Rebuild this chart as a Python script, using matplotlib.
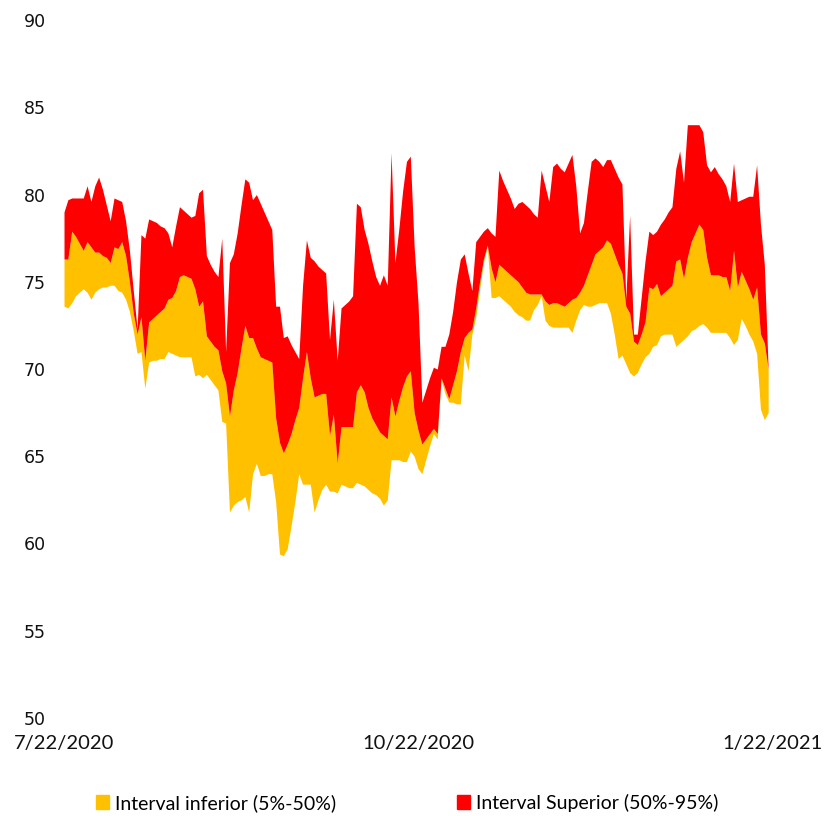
import matplotlib
matplotlib.use("Agg")
import matplotlib.pyplot as plt
import pandas as pd
from matplotlib.patches import Patch

# Daily percentiles, starting on 7/22/2020
start_date = "2020-07-22"
end_date = "2021-01-22"

p95 = [
    79.0, 79.7, 79.8, 79.8, 79.8, 79.8, 80.5, 79.6, 80.5, 81.0,
    80.3, 79.4, 78.5, 79.8, 79.7, 79.6, 78.5, 76.8, 74.5, 72.3,
    77.7, 77.5, 78.6, 78.5, 78.4, 78.2, 78.1, 77.8, 77.0, 78.2,
    79.3, 79.1, 78.9, 78.7, 78.8, 80.1, 80.3, 76.5, 76.0, 75.6,
    75.3, 77.5, 71.0, 76.1, 76.6, 77.8, 79.4, 80.9, 80.7, 79.7,
    80.0, 79.5, 79.0, 78.5, 78.0, 73.6, 73.6, 71.8, 71.9, 71.4,
    71.0, 70.6, 74.8, 77.4, 76.4, 76.2, 75.9, 75.7, 75.5, 71.7,
    74.0, 70.5, 73.5, 73.7, 73.9, 74.2, 79.5, 79.3, 78.0, 77.2,
    76.2, 75.3, 74.8, 75.4, 74.8, 82.4, 76.1, 78.0, 80.2, 81.9,
    82.2, 77.0, 73.8, 68.1, 68.8, 69.5, 70.1, 70.0, 71.3, 71.3,
    72.0, 73.3, 75.0, 76.3, 76.6, 75.5, 74.5, 77.3, 77.6, 77.9,
    78.1, 77.8, 77.6, 81.4, 80.8, 80.3, 79.8, 79.2, 79.5, 79.6,
    79.4, 79.2, 78.9, 78.7, 81.4, 80.5, 79.6, 81.6, 81.8, 81.5,
    81.3, 81.8, 82.3, 80.5, 77.8, 78.4, 80.2, 81.9, 82.1, 81.9,
    81.6, 82.0, 82.0, 81.5, 81.0, 80.6, 74.0, 78.8, 72.0, 72.0,
    74.1, 76.2, 77.9, 77.7, 77.9, 78.3, 78.6, 79.0, 79.3, 81.5,
    82.5, 80.7, 84.0, 84.0, 84.0, 84.0, 83.6, 81.7, 81.3, 81.6,
    81.2, 80.9, 80.5, 79.6, 81.8, 79.6, 79.7, 79.8, 79.9, 79.9,
    81.7, 78.3, 76.0, 70.0,
]

p50 = [
    76.3, 76.3, 77.9, 77.6, 77.2, 76.8, 77.3, 77.0, 76.7, 76.7,
    76.5, 76.4, 76.1, 77.0, 76.9, 77.3, 76.5, 75.0, 73.2, 72.0,
    73.0, 70.5, 72.7, 72.9, 73.1, 73.3, 73.5, 74.0, 74.1, 74.5,
    75.3, 75.4, 75.3, 75.2, 74.6, 73.6, 73.9, 71.9, 71.6, 71.3,
    71.1, 69.9, 69.2, 67.3, 68.8, 69.8, 71.2, 72.5, 71.8, 71.8,
    71.2, 70.7, 70.6, 70.5, 70.4, 67.2, 65.8, 65.2, 65.7, 66.3,
    67.1, 67.8, 69.5, 71.0, 69.5, 68.4, 68.5, 68.6, 68.6, 66.2,
    67.4, 64.6, 66.7, 66.7, 66.7, 66.7, 68.7, 69.1, 68.7, 67.8,
    67.2, 66.8, 66.4, 66.2, 66.0, 68.4, 67.3, 68.2, 69.0, 69.6,
    69.9, 67.5, 66.5, 65.7, 66.0, 66.3, 66.6, 66.3, 69.5, 68.9,
    68.3, 69.1, 69.9, 71.0, 71.8, 72.1, 72.3, 73.5, 75.0, 76.3,
    77.1, 75.8, 75.0, 76.0, 75.8, 75.6, 75.4, 75.2, 75.0, 74.7,
    74.4, 74.3, 74.3, 74.3, 74.3, 73.9, 73.7, 73.8, 73.8, 73.7,
    73.6, 73.8, 74.0, 74.1, 74.4, 74.8, 75.4, 76.0, 76.6, 76.8,
    77.0, 77.4, 77.2, 76.6, 76.0, 75.5, 73.6, 73.2, 71.6, 71.4,
    72.0, 72.7, 74.7, 74.6, 74.9, 74.2, 74.4, 74.6, 74.8, 76.2,
    76.3, 75.2, 76.4, 77.3, 77.8, 78.3, 78.0, 76.4, 75.4, 75.4,
    75.4, 75.3, 75.3, 74.5, 76.8, 74.7, 75.6, 75.1, 74.6, 74.0,
    74.7, 72.0, 71.5, 70.0,
]

p05 = [
    73.6, 73.5, 73.8, 74.2, 74.4, 74.6, 74.4, 74.0, 74.4, 74.6,
    74.7, 74.7, 74.8, 74.8, 74.5, 74.4, 74.0, 73.3, 72.2, 70.9,
    71.0, 68.9, 70.4, 70.5, 70.5, 70.6, 70.6, 71.0, 70.9, 70.8,
    70.7, 70.7, 70.7, 70.7, 69.6, 69.7, 69.5, 69.7, 69.4, 69.1,
    68.8, 67.0, 66.9, 61.8, 62.2, 62.4, 62.5, 62.7, 61.8, 64.0,
    64.6, 63.9, 63.9, 64.0, 64.0, 62.4, 59.4, 59.3, 59.7, 61.0,
    62.4, 64.0, 63.4, 63.4, 63.4, 61.8, 62.5, 63.1, 63.4, 63.0,
    63.0, 62.9, 63.4, 63.3, 63.2, 63.2, 63.5, 63.4, 63.3, 63.1,
    62.9, 62.8, 62.6, 62.2, 62.5, 64.8, 64.8, 64.8, 64.7, 64.7,
    65.3, 65.0, 64.3, 64.0, 64.8, 65.6, 66.3, 66.0, 69.4, 68.6,
    68.1, 68.1, 68.0, 68.0, 70.8, 69.9, 72.0, 73.0, 74.6, 76.1,
    77.0, 74.1, 74.1, 74.2, 74.0, 73.8, 73.6, 73.3, 73.1, 73.0,
    72.8, 72.8, 73.4, 73.7, 74.2, 72.8, 72.5, 72.4, 72.4, 72.4,
    72.4, 72.4, 72.1, 72.8, 73.4, 73.7, 73.6, 73.6, 73.7, 73.8,
    73.8, 73.8, 73.2, 72.0, 70.6, 70.8, 70.3, 69.8, 69.6, 69.8,
    70.3, 70.7, 70.9, 71.3, 71.4, 71.9, 72.0, 72.0, 72.0, 71.3,
    71.5, 71.7, 71.9, 72.2, 72.3, 72.5, 72.6, 72.4, 72.1, 72.1,
    72.1, 72.1, 72.1, 71.8, 71.4, 71.7, 72.9, 72.5, 72.0, 71.6,
    70.9, 67.7, 67.1, 67.5,
]

tick_dates = ["2020-07-22", "2020-10-22", "2021-01-22"]
series_names = ["Interval inferior (5%-50%)", "Interval Superior (50%-95%)"]
colors = ["#FFC000", "#FF0000"]

dates = pd.date_range(start_date, periods=len(p50), freq="D")
ticks = pd.to_datetime(tick_dates)

fig = plt.figure(figsize=(8.38, 8.16), dpi=100)
ax = fig.add_axes([64 / 838, 98 / 816, 708 / 838, 698 / 816])

# yellow band: 5th to 50th percentile, red band: 50th to 95th
ax.fill_between(dates, p05, p50, color=colors[0], linewidth=0)
ax.fill_between(dates, p50, p95, color=colors[1], linewidth=0)

ax.set_ylim(50, 90)
ax.set_yticks(range(50, 91, 5))
ax.set_xlim(dates[0], pd.Timestamp(end_date))
ax.set_xticks(ticks)
ax.set_xticklabels([f"{t.month}/{t.day}/{t.year}" for t in ticks],
                   fontfamily="Lato", fontsize=14.5)

for s in ax.spines.values():
    s.set_visible(False)
ax.tick_params(length=0)
ax.tick_params(axis="y", pad=13, labelsize=12.5, labelcolor="#111111")
ax.tick_params(axis="x", pad=12, labelcolor="#111111")

handles = [Patch(color=c) for c in colors]
fig.legend(handles, series_names, loc="center",
           bbox_to_anchor=(407 / 838, 13 / 816), ncol=2, frameon=False,
           handlelength=0.7, handleheight=0.7, handletextpad=0.3,
           columnspacing=6.2, prop={"family": "Lato", "size": 14})

fig.savefig("out.png", dpi=100)
